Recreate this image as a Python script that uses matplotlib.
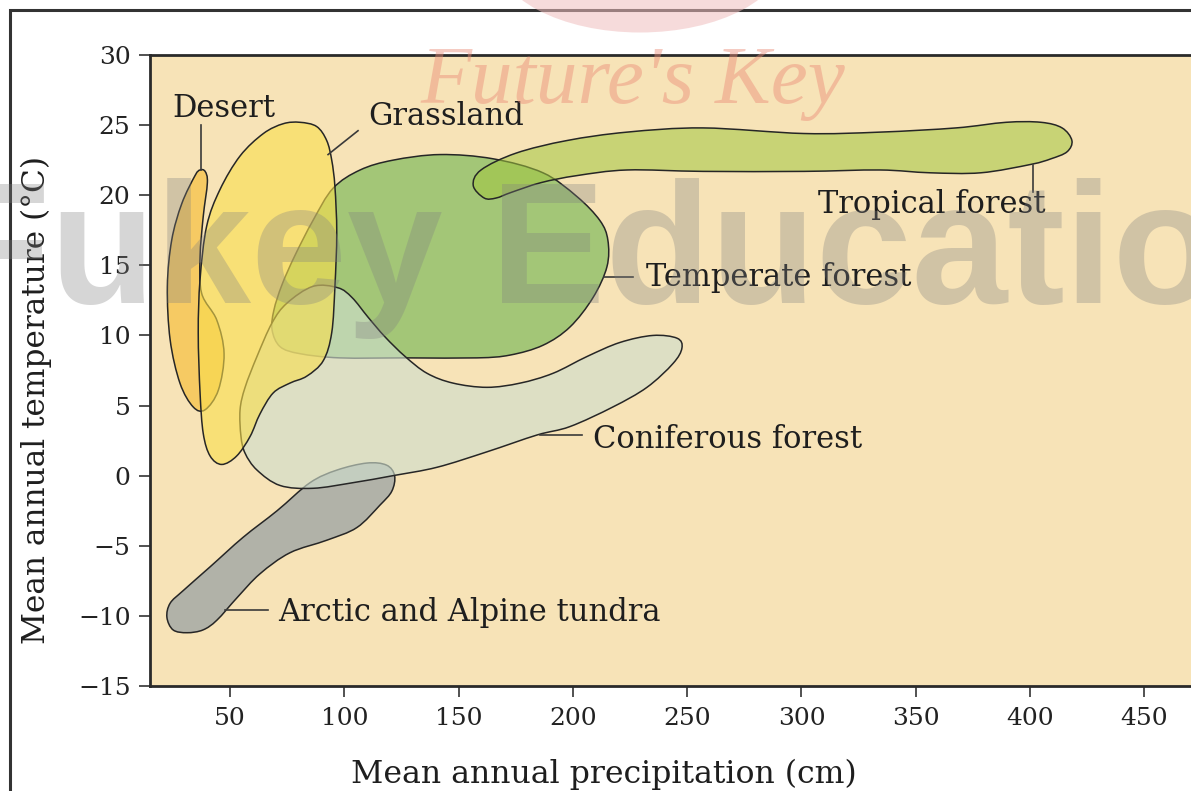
import numpy as np
import matplotlib
matplotlib.use("Agg")
import matplotlib.pyplot as plt
from matplotlib.path import Path
from matplotlib.patches import PathPatch, Rectangle, Ellipse

# outlines of each biome: (precipitation cm, temperature C)
desert_precip = [39.1, 40.1, 38.3, 36.9, 37.6, 44.2, 47.4, 44.9, 39.1, 33.9, 28.1, 23.8, 22.6, 24.5, 28.9, 34.7, 36.9]
desert_temp = [21.7, 20.9, 18.5, 15.6, 13.0, 11.1, 8.7, 6.1, 4.7, 4.9, 6.6, 9.7, 13.5, 16.8, 19.4, 21.4, 21.8]

grass_precip = [80.6, 87.9, 92.3, 94.5, 95.9, 96.7, 95.9, 94.5, 90.8, 83.6, 76.2, 68.9, 63.1, 58.8, 52.9,
                46.4, 41.3, 38.3, 36.9, 36.1, 36.9, 39.8, 45.6, 54.4, 64.6, 73.3]
grass_temp = [25.2, 24.9, 23.9, 22.5, 20.6, 17.3, 13.5, 10.2, 8.2, 7.1, 6.6, 5.9, 4.4, 2.8, 1.4,
              0.8, 1.4, 3.0, 5.9, 10.2, 14.0, 17.8, 20.4, 22.8, 24.4, 25.1]

temperate_precip = [95.1, 106.9, 121.3, 141.9, 165.0, 186.9, 201.8, 211.8, 215.3, 214.9, 208.8, 198.7,
                    186.9, 172.5, 158.1, 127.4, 98.1, 80.6, 71.9, 68.4, 69.2, 72.7, 78.4, 86.3]
temperate_temp = [20.5, 21.8, 22.5, 22.9, 22.6, 21.6, 19.9, 18.2, 16.8, 14.9, 12.7, 10.6,
                  9.3, 8.6, 8.4, 8.4, 8.4, 8.7, 9.2, 10.4, 11.8, 13.6, 15.7, 18.2]

conifer_precip = [97.2, 103.4, 110.4, 117.8, 126.6, 136.2, 147.6, 162.4, 176.9, 191.3, 206.2, 220.6,
                  235.0, 245.6, 247.7, 243.8, 232.4, 217.5, 198.7, 184.3, 162.4, 140.6, 121.3, 103.8,
                  86.3, 71.9, 61.8, 56.6, 54.8, 54.4, 56.6, 61.8, 68.4, 74.9, 86.3]
conifer_temp = [13.4, 12.7, 11.3, 9.9, 8.5, 7.3, 6.6, 6.3, 6.6, 7.3, 8.5, 9.5,
                10.0, 9.8, 9.1, 8.0, 6.3, 4.9, 3.5, 2.9, 1.7, 0.6, 0.0, -0.5,
                -0.9, -0.7, 0.4, 1.6, 2.8, 4.7, 6.3, 8.5, 10.9, 12.3, 13.5]

tundra_precip = [122.0, 118.5, 109.9, 96.8, 85.0, 70.6, 55.7, 41.3, 29.5, 23.8, 22.4, 25.1, 31.2,
                 38.2, 44.3, 53.1, 63.1, 76.2, 92.4, 105.5, 115.6, 120.8]
tundra_temp = [0.0, 0.75, 0.9, 0.4, -0.5, -2.5, -4.4, -6.5, -8.2, -9.1, -10.1, -11.0, -11.2,
               -11.0, -10.3, -8.7, -7.0, -5.5, -4.6, -3.7, -2.1, -1.1]

tropical_precip = [156.4, 159.8, 175.1, 197.4, 223.7, 256.9, 301.1, 334.3, 367.6, 389.5, 404.8, 414.0,
                   418.3, 416.2, 409.2, 400.4, 378.5, 356.2, 334.3, 301.1, 256.9, 223.7, 201.8,
                   186.1, 173.0, 166.4, 161.2]
tropical_temp = [20.7, 21.8, 23.0, 23.9, 24.5, 24.8, 24.4, 24.5, 24.8, 25.2, 25.2, 24.8,
                 23.9, 23.1, 22.6, 22.2, 21.6, 21.6, 21.8, 21.7, 21.7, 21.8, 21.4,
                 20.9, 20.2, 19.8, 19.8]

labels = ["Desert", "Grassland", "Temperate forest", "Tropical forest",
          "Coniferous forest", "Arctic and Alpine tundra"]
label_x = [24.6, 110.4, 232.0, 307.2, 208.8, 71.0]
label_y = [25.6, 25.0, 13.5, 18.7, 2.0, -10.4]
# leader lines: start/end points
lead_x0 = [37.3, 92.9, 213.8, 401.3, 185.6, 47.8]
lead_y0 = [21.8, 22.9, 14.2, 22.15, 2.9, -9.6]
lead_x1 = [37.3, 106.0, 226.4, 401.3, 203.8, 66.8]
lead_y1 = [25.0, 24.6, 14.2, 20.2, 2.9, -9.6]

x_ticks = [50, 100, 150, 200, 250, 300, 350, 400, 450]
y_ticks = [-15, -10, -5, 0, 5, 10, 15, 20, 25, 30]


def blob(xs, ys):
    # closed smooth curve through the outline points (Catmull-Rom as Bezier)
    pts = np.column_stack([xs, ys])
    n = len(pts)
    verts = [pts[0]]
    codes = [Path.MOVETO]
    for i in range(n):
        p0, p1, p2, p3 = pts[i - 1], pts[i], pts[(i + 1) % n], pts[(i + 2) % n]
        verts += [p1 + (p2 - p0) / 6, p2 - (p3 - p1) / 6, p2]
        codes += [Path.CURVE4] * 3
    verts.append(pts[0])
    codes.append(Path.CLOSEPOLY)
    return Path(verts, codes)


plt.rcParams['font.family'] = 'DejaVu Serif'
fig = plt.figure(figsize=(11.91, 7.91), dpi=100)
ax = fig.add_axes([150 / 1191, 1 - 686 / 791, 1041 / 1191, 631 / 791])
ax.set_facecolor('#F7E3B7')
ax.set_xlim(15, 470.4)
ax.set_ylim(-15, 30)

edge = '#262626'
shapes = [
    (temperate_precip, temperate_temp, (163/255, 198/255, 119/255, 1.0), 2),
    (tundra_precip, tundra_temp, (177/255, 178/255, 168/255, 1.0), 2),
    (desert_precip, desert_temp, (246/255, 202/255, 99/255, 1.0), 3),
    (tropical_precip, tropical_temp, (162/255, 198/255, 63/255, 0.55), 3),
    (conifer_precip, conifer_temp, (207/255, 222/255, 205/255, 0.63), 4),
    (grass_precip, grass_temp, (249/255, 222/255, 76/255, 0.6), 5),
]
for xs, ys, fc, z in shapes:
    ax.add_patch(PathPatch(blob(xs, ys), facecolor=fc, edgecolor=edge, lw=1.1, zorder=z))

for i, lab in enumerate(labels):
    ax.plot([lead_x0[i], lead_x1[i]], [lead_y0[i], lead_y1[i]], color='#3a3a3a', lw=1.2, zorder=6)
    ax.text(label_x[i], label_y[i], lab, fontsize=22, color='#1e1e1e',
            ha='left', va='baseline', zorder=7)

ax.set_xticks(x_ticks)
ax.set_yticks(y_ticks)
ax.tick_params(direction='out', length=8, width=1.2, color='#333333',
               labelsize=18, labelcolor='#222222')
ax.tick_params(axis='y', pad=6)
ax.tick_params(axis='x', pad=7)
for side in ['left', 'top', 'bottom']:
    ax.spines[side].set_linewidth(2.0)
    ax.spines[side].set_color('#2a2a2a')
ax.spines['right'].set_visible(False)

ax.set_xlabel('Mean annual precipitation (cm)', fontsize=22.7, color='#1e1e1e')
ax.set_ylabel('Mean annual temperature (°C)', fontsize=22.5, color='#1e1e1e')
ax.xaxis.set_label_coords(0.436, -0.115)
ax.yaxis.set_label_coords(-0.094, 0.453)

# outer frame of the page
fig.add_artist(Rectangle((9.5 / 1191, -0.05), 1.2, 1.05 - 10 / 791, transform=fig.transFigure,
                         fill=False, lw=2.2, edgecolor='#333333', zorder=10))

# watermarks
fig.add_artist(Ellipse((640 / 1191, 1 + 45 / 791), 290 / 1191, 155 / 791, transform=fig.transFigure,
                       color=(240/255, 190/255, 190/255), alpha=0.55, zorder=11, lw=0))
fig.text(420 / 1191, 1 - 103 / 791, "Future's Key", fontsize=60, family='Liberation Serif',
         style='italic', color=(235/255, 140/255, 120/255), alpha=0.45, zorder=12)
fig.text(-55 / 1191, 1 - 303 / 791, "Fukey Education", fontsize=124, family='Liberation Sans',
         weight='bold', color='#808080', alpha=0.32, ha='left', va='baseline', zorder=12)

fig.savefig('out.png', dpi=100)
